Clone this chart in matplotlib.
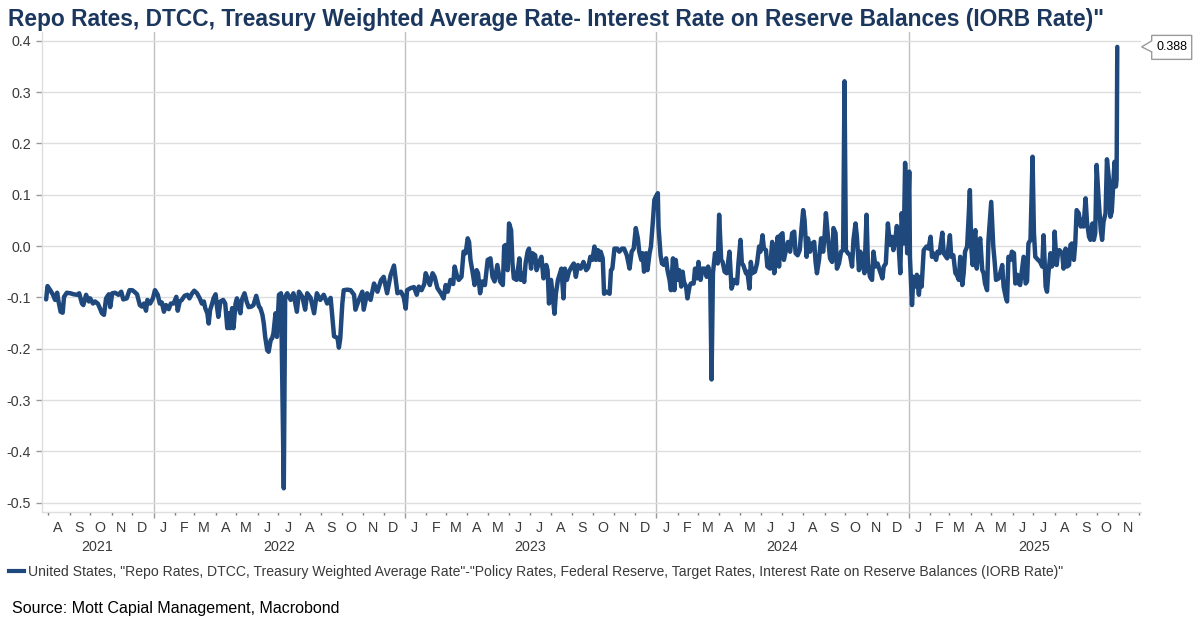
import matplotlib
matplotlib.use("Agg")
import matplotlib.pyplot as plt
import matplotlib.dates as mdates
import matplotlib.transforms as mtransforms
from matplotlib.patches import Polygon
import pandas as pd
import numpy as np

plt.rcParams['font.family'] = ['Liberation Sans', 'DejaVu Sans']

# ---------------- text ----------------
title = 'Repo Rates, DTCC, Treasury Weighted Average Rate- Interest Rate on Reserve Balances (IORB Rate)"'
legend_label = ('United States, "Repo Rates, DTCC, Treasury Weighted Average Rate"-"Policy Rates, '
                'Federal Reserve, Target Rates, Interest Rate on Reserve Balances (IORB Rate)"')
source_text = 'Source: Mott Capial Management, Macrobond'

# ---------------- data ----------------
dates_2021 = ['2021-07-29', '2021-07-31', '2021-08-04', '2021-08-08', '2021-08-11', '2021-08-14', '2021-08-16',
              '2021-08-19', '2021-08-22', '2021-08-24', '2021-08-28', '2021-09-02', '2021-09-07', '2021-09-12',
              '2021-09-15', '2021-09-19', '2021-09-21', '2021-09-25', '2021-09-29', '2021-10-01', '2021-10-05',
              '2021-10-08', '2021-10-12', '2021-10-15', '2021-10-18', '2021-10-21', '2021-10-24', '2021-10-28',
              '2021-10-30', '2021-11-02', '2021-11-06', '2021-11-11', '2021-11-15', '2021-11-18', '2021-11-23',
              '2021-11-27', '2021-12-01', '2021-12-04', '2021-12-08', '2021-12-12', '2021-12-15', '2021-12-18',
              '2021-12-21', '2021-12-23', '2021-12-27', '2021-12-31']
values_2021 = [-0.104, -0.078, -0.086, -0.095, -0.105, -0.091, -0.108,
               -0.128, -0.130, -0.099, -0.091, -0.092, -0.094, -0.095,
               -0.092, -0.112, -0.115, -0.095, -0.108, -0.102, -0.112,
               -0.108, -0.112, -0.121, -0.131, -0.134, -0.102, -0.094,
               -0.119, -0.092, -0.091, -0.095, -0.089, -0.104, -0.102,
               -0.086, -0.086, -0.089, -0.094, -0.115, -0.118, -0.112,
               -0.126, -0.105, -0.112, -0.102]

dates_2022 = ['2022-01-03', '2022-01-07', '2022-01-10', '2022-01-13', '2022-01-16', '2022-01-19', '2022-01-23',
              '2022-01-26', '2022-01-30', '2022-02-03', '2022-02-05', '2022-02-08', '2022-02-11', '2022-02-15',
              '2022-02-19', '2022-02-22', '2022-02-26', '2022-03-01', '2022-03-05', '2022-03-09', '2022-03-12',
              '2022-03-15', '2022-03-17', '2022-03-20', '2022-03-22', '2022-03-24', '2022-03-27', '2022-03-29',
              '2022-04-01', '2022-04-03', '2022-04-05', '2022-04-08', '2022-04-12', '2022-04-15', '2022-04-18',
              '2022-04-20', '2022-04-22', '2022-04-25', '2022-04-27', '2022-04-30', '2022-05-02', '2022-05-05',
              '2022-05-07', '2022-05-09', '2022-05-13', '2022-05-16', '2022-05-19', '2022-05-23', '2022-05-26',
              '2022-05-30', '2022-06-03', '2022-06-05', '2022-06-08', '2022-06-10', '2022-06-12', '2022-06-15',
              '2022-06-17', '2022-06-20', '2022-06-22', '2022-06-24', '2022-06-27', '2022-06-29', '2022-07-02',
              '2022-07-05', '2022-07-09', '2022-07-11', '2022-07-14', '2022-07-19', '2022-07-23', '2022-07-28',
              '2022-07-31', '2022-08-05', '2022-08-09', '2022-08-12', '2022-08-17', '2022-08-22', '2022-08-26',
              '2022-08-31', '2022-09-05', '2022-09-10', '2022-09-15', '2022-09-20', '2022-09-25', '2022-09-27',
              '2022-09-29', '2022-10-02', '2022-10-04', '2022-10-09', '2022-10-14', '2022-10-19', '2022-10-21',
              '2022-10-26', '2022-10-31', '2022-11-02', '2022-11-07', '2022-11-12', '2022-11-17', '2022-11-22',
              '2022-11-27', '2022-12-01', '2022-12-06', '2022-12-11', '2022-12-16', '2022-12-18', '2022-12-21',
              '2022-12-26', '2022-12-30']
values_2022 = [-0.086, -0.095, -0.112, -0.110, -0.128, -0.115, -0.123,
               -0.112, -0.112, -0.099, -0.126, -0.108, -0.105, -0.097,
               -0.095, -0.102, -0.092, -0.087, -0.092, -0.102, -0.112,
               -0.108, -0.121, -0.131, -0.151, -0.125, -0.112, -0.102,
               -0.094, -0.118, -0.138, -0.108, -0.105, -0.112, -0.160,
               -0.131, -0.160, -0.121, -0.160, -0.112, -0.102, -0.121,
               -0.131, -0.105, -0.092, -0.108, -0.119, -0.118, -0.115,
               -0.097, -0.118, -0.121, -0.134, -0.151, -0.177, -0.203,
               -0.206, -0.183, -0.180, -0.170, -0.131, -0.177, -0.095,
               -0.092, -0.472, -0.099, -0.092, -0.105, -0.092, -0.128,
               -0.089, -0.099, -0.124, -0.092, -0.101, -0.131, -0.092,
               -0.105, -0.095, -0.112, -0.101, -0.176, -0.179, -0.198,
               -0.180, -0.112, -0.086, -0.085, -0.086, -0.095, -0.124,
               -0.105, -0.089, -0.124, -0.092, -0.105, -0.073, -0.089,
               -0.067, -0.060, -0.092, -0.057, -0.038, -0.060, -0.092,
               -0.089, -0.099]

dates_2023 = ['2023-01-02', '2023-01-04', '2023-01-09', '2023-01-14', '2023-01-18', '2023-01-21', '2023-01-25',
              '2023-01-29', '2023-01-31', '2023-02-03', '2023-02-06', '2023-02-10', '2023-02-13', '2023-02-17',
              '2023-02-22', '2023-02-26', '2023-03-01', '2023-03-04', '2023-03-08', '2023-03-12', '2023-03-14',
              '2023-03-17', '2023-03-20', '2023-03-24', '2023-03-27', '2023-03-30', '2023-04-02', '2023-04-04',
              '2023-04-06', '2023-04-09', '2023-04-12', '2023-04-15', '2023-04-17', '2023-04-20', '2023-04-23',
              '2023-04-27', '2023-05-01', '2023-05-05', '2023-05-08', '2023-05-11', '2023-05-15', '2023-05-19',
              '2023-05-23', '2023-05-25', '2023-05-27', '2023-05-30', '2023-06-01', '2023-06-04', '2023-06-06',
              '2023-06-08', '2023-06-12', '2023-06-16', '2023-06-18', '2023-06-21', '2023-06-23', '2023-06-25',
              '2023-06-28', '2023-06-30', '2023-07-03', '2023-07-05', '2023-07-09', '2023-07-11', '2023-07-15',
              '2023-07-18', '2023-07-21', '2023-07-25', '2023-07-27', '2023-07-29', '2023-08-01', '2023-08-03',
              '2023-08-06', '2023-08-08', '2023-08-11', '2023-08-14', '2023-08-16', '2023-08-19', '2023-08-21',
              '2023-08-24', '2023-08-27', '2023-08-31', '2023-09-03', '2023-09-06', '2023-09-09', '2023-09-13',
              '2023-09-17', '2023-09-21', '2023-09-24', '2023-09-27', '2023-09-30', '2023-10-03', '2023-10-05',
              '2023-10-08', '2023-10-10', '2023-10-12', '2023-10-15', '2023-10-17', '2023-10-21', '2023-10-25',
              '2023-10-27', '2023-10-29', '2023-11-01', '2023-11-05', '2023-11-08', '2023-11-12', '2023-11-15',
              '2023-11-19', '2023-11-23', '2023-11-26', '2023-11-29', '2023-12-02', '2023-12-05', '2023-12-07',
              '2023-12-10', '2023-12-12', '2023-12-14', '2023-12-17', '2023-12-19', '2023-12-22', '2023-12-24',
              '2023-12-27', '2023-12-29', '2023-12-31']
values_2023 = [-0.122, -0.086, -0.082, -0.080, -0.095, -0.079, -0.086,
               -0.074, -0.053, -0.063, -0.076, -0.053, -0.060, -0.082,
               -0.092, -0.102, -0.076, -0.089, -0.066, -0.074, -0.040,
               -0.056, -0.066, -0.060, -0.011, -0.014, 0.015, 0.008,
               -0.027, -0.050, -0.076, -0.047, -0.053, -0.092, -0.069,
               -0.076, -0.027, -0.024, -0.060, -0.069, -0.037, -0.069,
               -0.076, 0.000, 0.002, -0.047, 0.044, 0.031, -0.034,
               -0.063, -0.066, -0.024, -0.066, -0.053, -0.070, -0.034,
               -0.011, -0.005, -0.044, -0.014, -0.018, -0.047, -0.031,
               -0.021, -0.063, -0.037, -0.047, -0.112, -0.066, -0.093,
               -0.132, -0.093, -0.066, -0.053, -0.044, -0.102, -0.044,
               -0.066, -0.050, -0.040, -0.034, -0.060, -0.037, -0.044,
               -0.031, -0.047, -0.042, -0.021, -0.027, -0.001, -0.027,
               -0.008, -0.027, -0.011, -0.024, -0.093, -0.089, -0.093,
               -0.047, -0.044, -0.005, -0.005, -0.011, -0.005, -0.005,
               -0.018, -0.044, -0.011, -0.005, 0.035, 0.015, -0.011,
               -0.027, -0.014, -0.050, -0.014, -0.047, -0.014, -0.001,
               0.051, 0.090, 0.096]

dates_2024 = ['2024-01-03', '2024-01-04', '2024-01-07', '2024-01-09', '2024-01-12', '2024-01-15', '2024-01-17',
              '2024-01-20', '2024-01-22', '2024-01-25', '2024-01-27', '2024-01-29', '2024-02-01', '2024-02-03',
              '2024-02-06', '2024-02-08', '2024-02-10', '2024-02-13', '2024-02-15', '2024-02-18', '2024-02-20',
              '2024-02-24', '2024-02-26', '2024-02-29', '2024-03-02', '2024-03-05', '2024-03-08', '2024-03-11',
              '2024-03-14', '2024-03-16', '2024-03-19', '2024-03-21', '2024-03-23', '2024-03-26', '2024-03-30',
              '2024-04-01', '2024-04-04', '2024-04-06', '2024-04-09', '2024-04-12', '2024-04-16', '2024-04-19',
              '2024-04-23', '2024-04-27', '2024-04-29', '2024-05-02', '2024-05-04', '2024-05-06', '2024-05-10',
              '2024-05-12', '2024-05-15', '2024-05-17', '2024-05-19', '2024-05-23', '2024-05-26', '2024-05-29',
              '2024-05-31', '2024-06-03', '2024-06-05', '2024-06-08', '2024-06-10', '2024-06-14', '2024-06-17',
              '2024-06-20', '2024-06-22', '2024-06-25', '2024-06-27', '2024-06-29', '2024-07-02', '2024-07-04',
              '2024-07-07', '2024-07-10', '2024-07-13', '2024-07-16', '2024-07-19', '2024-07-21', '2024-07-24',
              '2024-07-27', '2024-07-29', '2024-08-01', '2024-08-03', '2024-08-06', '2024-08-08', '2024-08-11',
              '2024-08-14', '2024-08-17', '2024-08-19', '2024-08-21', '2024-08-24', '2024-08-27', '2024-08-30',
              '2024-09-01', '2024-09-03', '2024-09-06', '2024-09-09', '2024-09-12', '2024-09-14', '2024-09-17',
              '2024-09-19', '2024-09-22', '2024-09-25', '2024-09-28', '2024-09-30', '2024-10-02', '2024-10-05',
              '2024-10-08', '2024-10-11', '2024-10-13', '2024-10-16', '2024-10-18', '2024-10-21', '2024-10-23',
              '2024-10-26', '2024-10-29', '2024-11-01', '2024-11-03', '2024-11-06', '2024-11-09', '2024-11-11',
              '2024-11-14', '2024-11-17', '2024-11-20', '2024-11-24', '2024-11-26', '2024-11-29', '2024-12-02',
              '2024-12-05', '2024-12-08', '2024-12-10', '2024-12-13', '2024-12-15', '2024-12-18', '2024-12-20',
              '2024-12-22', '2024-12-25', '2024-12-27', '2024-12-30']
values_2024 = [0.103, 0.038, -0.018, -0.034, -0.037, -0.024, -0.047,
               -0.066, -0.086, -0.024, -0.086, -0.027, -0.066, -0.047,
               -0.079, -0.050, -0.070, -0.079, -0.102, -0.079, -0.073,
               -0.073, -0.044, -0.063, -0.031, -0.066, -0.044, -0.044,
               -0.060, -0.040, -0.060, -0.260, -0.053, -0.014, -0.034,
               0.061, -0.027, -0.031, -0.050, -0.053, -0.011, -0.083,
               -0.066, -0.073, -0.034, 0.012, -0.034, -0.037, -0.053,
               -0.050, -0.083, -0.031, -0.053, -0.050, -0.034, -0.001,
               -0.011, 0.021, -0.005, -0.008, -0.040, -0.044, 0.008,
               -0.053, -0.027, 0.018, -0.040, 0.021, 0.025, -0.027,
               -0.008, 0.008, -0.011, 0.025, 0.028, -0.014, -0.018,
               -0.008, 0.025, 0.070, 0.051, -0.021, 0.015, -0.011,
               0.005, 0.008, -0.031, -0.053, -0.027, 0.015, -0.011,
               0.018, 0.064, 0.018, -0.024, -0.031, 0.035, 0.025,
               -0.044, -0.034, -0.011, -0.008, 0.321, -0.008, -0.014,
               -0.018, -0.040, 0.012, 0.044, 0.018, -0.047, -0.011,
               -0.031, -0.053, 0.061, -0.034, -0.060, -0.066, -0.011,
               -0.040, -0.034, -0.047, -0.063, -0.040, -0.034, 0.044,
               0.002, 0.018, -0.008, 0.015, 0.039, -0.008, -0.053,
               0.064, 0.005, 0.162, -0.014]

dates_2025 = ['2025-01-02', '2025-01-03', '2025-01-06', '2025-01-08', '2025-01-11', '2025-01-13', '2025-01-16',
              '2025-01-18', '2025-01-20', '2025-01-23', '2025-01-27', '2025-01-30', '2025-02-02', '2025-02-04',
              '2025-02-06', '2025-02-10', '2025-02-12', '2025-02-15', '2025-02-19', '2025-02-21', '2025-02-23',
              '2025-02-26', '2025-03-02', '2025-03-04', '2025-03-07', '2025-03-10', '2025-03-12', '2025-03-15',
              '2025-03-17', '2025-03-20', '2025-03-22', '2025-03-24', '2025-03-27', '2025-03-29', '2025-03-31',
              '2025-04-02', '2025-04-04', '2025-04-05', '2025-04-08', '2025-04-10', '2025-04-13', '2025-04-15',
              '2025-04-18', '2025-04-20', '2025-04-22', '2025-04-25', '2025-04-27', '2025-05-01', '2025-05-04',
              '2025-05-06', '2025-05-08', '2025-05-12', '2025-05-14', '2025-05-17', '2025-05-19', '2025-05-22',
              '2025-05-24', '2025-05-26', '2025-05-29', '2025-05-31', '2025-06-03', '2025-06-05', '2025-06-08',
              '2025-06-10', '2025-06-12', '2025-06-17', '2025-06-20', '2025-06-22', '2025-06-24', '2025-06-27',
              '2025-06-30', '2025-07-02', '2025-07-04', '2025-07-08', '2025-07-11', '2025-07-14', '2025-07-16',
              '2025-07-19', '2025-07-21', '2025-07-23', '2025-07-26', '2025-07-28', '2025-07-31', '2025-08-01',
              '2025-08-04', '2025-08-06', '2025-08-08', '2025-08-12', '2025-08-14', '2025-08-17', '2025-08-19',
              '2025-08-22', '2025-08-24', '2025-08-26', '2025-08-29', '2025-08-31', '2025-09-02', '2025-09-05',
              '2025-09-08', '2025-09-10', '2025-09-12', '2025-09-15', '2025-09-17', '2025-09-20', '2025-09-22',
              '2025-09-25', '2025-09-27', '2025-09-29', '2025-10-01', '2025-10-04', '2025-10-07', '2025-10-09',
              '2025-10-11', '2025-10-14', '2025-10-16', '2025-10-19', '2025-10-21', '2025-10-23', '2025-10-25',
              '2025-10-27', '2025-10-29', '2025-10-30', '2025-10-31']
values_2025 = [0.145, -0.021, -0.115, -0.060, -0.079, -0.056, -0.095,
               -0.060, -0.079, -0.008, -0.001, -0.005, 0.018, -0.021,
               -0.014, -0.027, -0.011, -0.014, 0.026, -0.014, -0.018,
               -0.024, 0.021, -0.021, -0.018, -0.053, -0.056, -0.066,
               -0.021, -0.076, -0.053, -0.011, -0.001, 0.051, 0.109,
               -0.001, -0.037, 0.005, 0.031, -0.044, -0.001, 0.015,
               -0.047, -0.053, -0.073, -0.086, 0.012, 0.086, -0.001,
               -0.031, -0.066, -0.063, -0.053, -0.037, -0.079, -0.099,
               -0.108, -0.021, -0.027, -0.011, -0.014, -0.073, -0.056,
               -0.073, -0.076, -0.021, -0.073, -0.069, 0.005, 0.012,
               0.174, 0.025, -0.021, -0.027, -0.031, -0.040, 0.021,
               -0.079, -0.089, -0.053, -0.014, -0.040, -0.031, 0.028,
               -0.037, -0.014, -0.008, -0.014, -0.044, -0.005, -0.040,
               -0.037, 0.002, 0.005, -0.027, 0.005, 0.070, 0.064,
               0.038, 0.051, 0.038, 0.093, 0.047, 0.018, 0.012,
               0.044, 0.012, 0.025, 0.158, 0.090, 0.031, 0.012,
               0.047, 0.064, 0.169, 0.129, 0.057, 0.067, 0.116,
               0.164, 0.116, 0.129, 0.388]

y_ticks = [0.4, 0.3, 0.2, 0.1, 0.0, -0.1, -0.2, -0.3, -0.4, -0.5]
x_start, x_end = '2021-07-23', '2025-12-04'

dates = pd.to_datetime(dates_2021 + dates_2022 + dates_2023 + dates_2024 + dates_2025)
values = np.array(values_2021 + values_2022 + values_2023 + values_2024 + values_2025)

# ---------------- style ----------------
LINE_COLOR = '#1f497d'
TITLE_COLOR = '#1c375e'
GRID_COLOR = '#dedede'
YEAR_LINE_COLOR = '#c0c0c0'
TEXT_COLOR = '#3a3a3a'

W, H = 1200, 627
fig = plt.figure(figsize=(W / 100, H / 100), dpi=100)
ax_left, ax_right, ax_top, ax_bottom = 42, 1140.7, 32, 511.7
ax = fig.add_axes([ax_left / W, 1 - ax_bottom / H, (ax_right - ax_left) / W, (ax_bottom - ax_top) / H])

ax.plot(dates, values, color=LINE_COLOR, lw=3.2, solid_joinstyle='round', solid_capstyle='round', zorder=3)

xmin, xmax = pd.Timestamp(x_start), pd.Timestamp(x_end)
ax.set_xlim(xmin, xmax)
ax.set_ylim(-0.5176, 0.417)

# y axis
ax.set_yticks(y_ticks)
ax.set_yticklabels([f'{t:.1f}' for t in y_ticks])
ax.yaxis.grid(True, color=GRID_COLOR, lw=1.0, zorder=0)
ax.tick_params(axis='y', length=4, width=1, color='#9a9a9a', pad=4, labelsize=10.3, labelcolor=TEXT_COLOR)

# x axis: year ticks (long) and month ticks (short)
ax.xaxis.set_major_locator(mdates.YearLocator())
ax.xaxis.set_minor_locator(mdates.MonthLocator())
ax.xaxis.set_major_formatter(plt.NullFormatter())
ax.tick_params(axis='x', which='major', length=4, width=1, color='#9a9a9a')
ax.tick_params(axis='x', which='minor', length=2, width=1, color='#7a7a7a')

for yr in range(xmin.year + 1, xmax.year + 1):
    ax.axvline(pd.Timestamp(f'{yr}-01-01'), color=YEAR_LINE_COLOR, lw=1.0, zorder=1)

for side in ['top', 'right']:
    ax.spines[side].set_visible(False)
for side in ['left', 'bottom']:
    ax.spines[side].set_color(GRID_COLOR)
    ax.spines[side].set_linewidth(1.0)

# month letters & year labels
xtrans = ax.get_xaxis_transform()
month_trans = mtransforms.offset_copy(xtrans, fig=fig, x=0, y=-20.6, units='dots')
year_trans = mtransforms.offset_copy(xtrans, fig=fig, x=0, y=-39.0, units='dots')
months = pd.date_range(xmin.replace(day=1), xmax, freq='MS')
for m in months:
    mid = m + pd.Timedelta(days=14)
    if xmin <= mid <= xmax:
        ax.text(mid, 0, m.strftime('%b')[0], transform=month_trans, ha='center', va='baseline',
                fontsize=10.3, color=TEXT_COLOR)
for yr in range(xmin.year, xmax.year + 1):
    ys, ye = pd.Timestamp(f'{yr}-01-01'), pd.Timestamp(f'{yr}-12-31')
    mid = ys + (ye - ys) / 2
    if not (xmin <= mid <= xmax):
        vs, ve = max(ys, xmin), min(ye, xmax)
        mid = vs + (ve - vs) / 2
    ax.text(mid, 0, str(yr), transform=year_trans, ha='center', va='baseline',
            fontsize=10.3, color=TEXT_COLOR)

# last-value callout
last_val = values[-1]
blend = mtransforms.blended_transform_factory(ax.transAxes, ax.transData)
tip = blend.transform((1.0, last_val)) + np.array([1.0, 0.0])
shape = np.array([[0, 0], [10, -5], [10, -12.5], [50, -12.5], [50, 11.5], [10, 11.5], [10, 6]])
poly = Polygon(tip + shape, closed=True, facecolor='white', edgecolor='#9a9a9a', lw=1.0,
               transform=mtransforms.IdentityTransform(), zorder=5)
fig.add_artist(poly)
fig.text((tip[0] + 30) / W, tip[1] / H, f'{last_val:.3f}', ha='center', va='center',
         fontsize=9, color='black', zorder=6)

# title, legend, source
fig.text(8 / W, 1 - 26 / H, title, ha='left', va='baseline', fontsize=16.35, fontweight='bold', color=TITLE_COLOR)
fig.add_artist(plt.Line2D([9 / W, 24 / W], [1 - 570.5 / H, 1 - 570.5 / H], color=LINE_COLOR, lw=3.0,
                          transform=fig.transFigure))
fig.text(28 / W, 1 - 575.7 / H, legend_label, ha='left', va='baseline', fontsize=10.05, color=TEXT_COLOR)
fig.text(12 / W, 1 - 612.7 / H, source_text, ha='left', va='baseline', fontsize=11.5, color='black')

fig.savefig('out.png', dpi=100)
